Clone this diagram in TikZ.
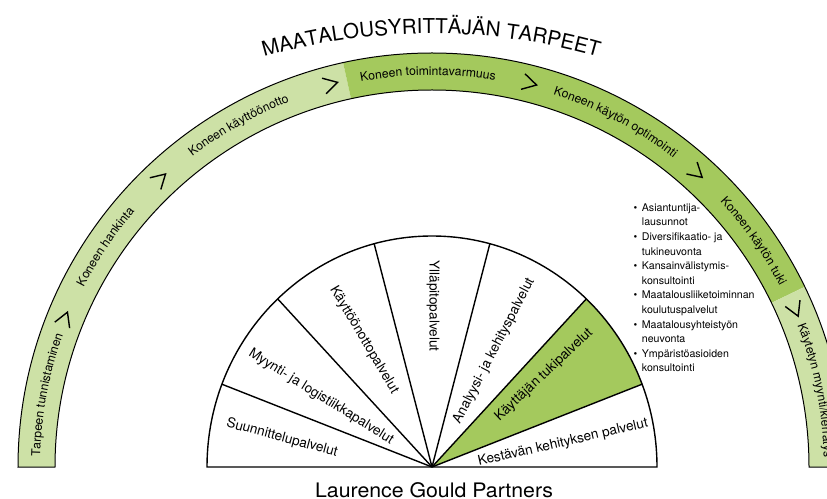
\documentclass[tikz,border=0pt]{standalone}
\usepackage{fontspec}
\setmainfont{TeX Gyre Heros}
\usetikzlibrary{decorations.text,calc}

\definecolor{paleleaf}{RGB}{205,225,166}
\definecolor{leaf}{RGB}{164,201,93}

% radii of the needs band and its text baseline
\def\Rout{414}
\def\Rin{377}
\def\Rtxt{392}
% radius of the flatter title baseline
\def\Rttl{605.5}
% half axes of the service fan
\def\Fx{225}
\def\Fy{231}

\newcommand\bandfont{\fontsize{12.2}{14}\selectfont}
\newcommand\fanfont{\fontsize{13.6}{16}\selectfont}
\newcommand\titlefont{\fontsize{20.5}{24}\selectfont}

\tikzset{
  outline/.style={draw=black, line width=1pt},
  fanline/.style={draw=black, line width=1.4pt},
  chevron/.style={draw=black, line width=1.4pt, line join=miter},
  fanlabel/.style={font=\fanfont, inner sep=0pt},
  listtext/.style={font=\fontsize{10.6}{14.6}\selectfont, inner sep=0pt,
    anchor=north west},
}

% filled piece of the needs band between two angles
\newcommand\bandpiece[3]{%
  \fill[#3] ([shift={(C)}]#1:\Rout) arc[start angle=#1, end angle=#2, radius=\Rout]
    -- ([shift={(C)}]#2:\Rin) arc[start angle=#2, end angle=#1, radius=\Rin] -- cycle;}

% curved label of a band segment, centred on the given angle, read clockwise
\newcommand\bandlabel[2]{%
  \path[decorate, decoration={text along path, text align=center,
      text={|\bandfont|#2}}]
    ([shift={(C)}]#1+14:\Rtxt) arc[start angle=#1+14, end angle=#1-14, radius=\Rtxt];}

% ">" mark pointing clockwise along the band
\newcommand\chevronmark[1]{%
  \begin{scope}[shift={(C)}, rotate=#1]
    \draw[chevron] (404,7) -- (396,-7) -- (388,7);
  \end{scope}}

\begin{document}
\begin{tikzpicture}[x=1pt, y=1pt]
  \useasboundingbox (0,0) rectangle (827,498);
  \clip (0,0) rectangle (827,498);
  \coordinate (C) at (432,31);
  \coordinate (T) at (431,-141);

  % needs band
  \bandpiece{180}{102.4}{paleleaf}
  \bandpiece{102.4}{25.8}{leaf}
  \bandpiece{25.8}{0}{paleleaf}
  \draw[outline] ([shift={(C)}]0:\Rout) arc[start angle=0, end angle=180, radius=\Rout]
    -- ([shift={(C)}]180:\Rin) arc[start angle=180, end angle=0, radius=\Rin] -- cycle;

  \foreach \a in {158,133.3,104.8,75.7,48,23.4} {\chevronmark{\a}}

  \bandlabel{169.4}{Tarpeen tunnistaminen}
  \bandlabel{146}{Koneen hankinta}
  \bandlabel{119.5}{Koneen käyttöönotto}
  \bandlabel{90.6}{Koneen toimintavarmuus}
  \bandlabel{62}{Koneen käytön optimointi}
  \bandlabel{35.1}{Koneen käytön tuki}
  \bandlabel{11.3}{Käytetyn myynti/kierrätys}

  % title along a flat arc above the band
  \path[decorate, decoration={text along path, text align=center,
      text={|\titlefont|MAATALOUSYRITTÄJÄN TARPEET}}]
    ([shift={(T)}]110:\Rttl) arc[start angle=110, end angle=70, radius=\Rttl];

  % service fan
  \fill[leaf] (C) -- ($(C)+({\Fx*cos(21)},{\Fy*sin(21)})$)
    arc[start angle=21, end angle=46.7, x radius=\Fx, y radius=\Fy] -- cycle;
  \draw[fanline] ($(C)+(\Fx,0)$) arc[start angle=0, end angle=180, x radius=\Fx, y radius=\Fy] -- cycle;
  \foreach \a in {21,46.7,75.1,104.9,133.3,159}
    \draw[fanline] (C) -- ($(C)+({\Fx*cos(\a)},{\Fy*sin(\a)})$);

  \node[fanlabel, rotate=-15]   (s1) at (282,60)  {Suunnittelupalvelut};
  \node[fanlabel, rotate=-31.8] (s2) at (321,101) {Myynti- ja logistiikkapalvelut};
  \node[fanlabel, rotate=-59.4] (s3) at (364,158) {Käyttöönottopalvelut};
  \node[fanlabel, rotate=-90]   (s4) at (433,192) {Ylläpitopalvelut};
  \node[fanlabel, rotate=62.6]  (s5) at (494,147) {Analyysi- ja kehityspalvelut};
  \node[fanlabel, rotate=43]    (s6) at (544,123) {Käyttäjän tukipalvelut};
  \node[fanlabel, rotate=13]    (s7) at (563,55)  {Kestävän kehityksen palvelut};

  % support services list
  \node[listtext] (list) at (633.5,297.2) {%
    \begin{tabular}{@{}l@{\hspace{4.5pt}}l@{}}
      \textbullet & Asiantuntija-\\
                  & lausunnot\\
      \textbullet & Diversifikaatio- ja\\
                  & tukineuvonta\\
      \textbullet & Kansainvälistymis-\\
                  & konsultointi\\
      \textbullet & Maatalousliiketoiminnan\\
                  & koulutuspalvelut\\
      \textbullet & Maatalousyhteistyön\\
                  & neuvonta\\
      \textbullet & Ympäristöasioiden\\
                  & konsultointi
    \end{tabular}};

  \node[font=\fontsize{20}{24}\selectfont, inner sep=0pt, anchor=base]
    (caption) at (434,0.6) {\scalebox{1.065}[1]{Laurence Gould Partners}};
\end{tikzpicture}
\end{document}
